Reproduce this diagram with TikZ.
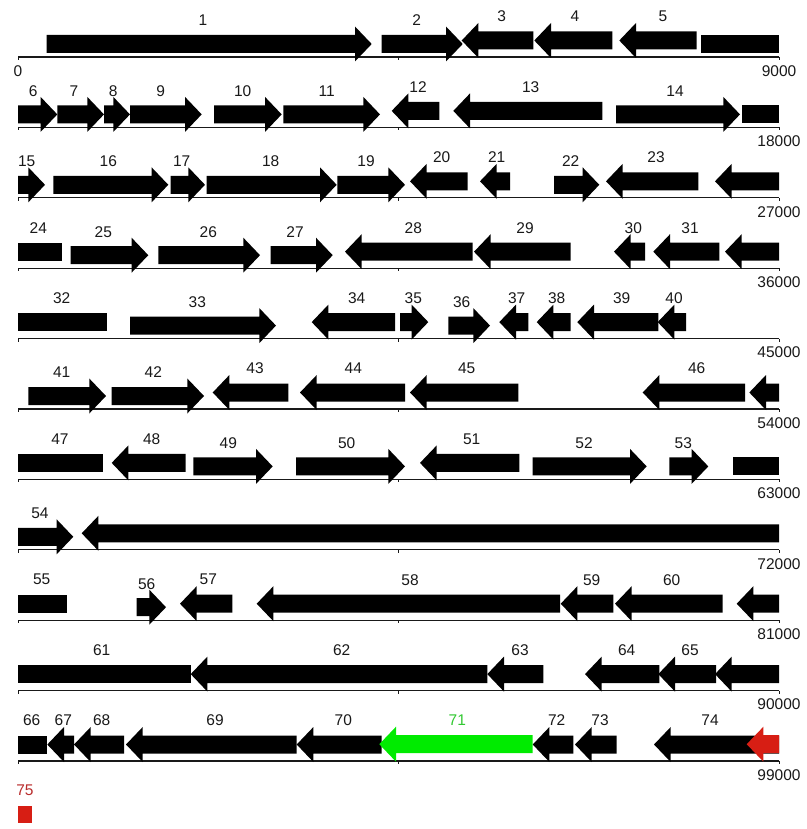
\documentclass[tikz,border=0pt]{standalone}
\usepackage{fontspec}
\setmainfont{Liberation Sans}
\definecolor{ink}{RGB}{25,25,25}
\definecolor{genegreen}{RGB}{0,235,0}
\definecolor{labelgreen}{RGB}{50,200,50}
\definecolor{genered}{RGB}{215,30,20}
\definecolor{labelred}{RGB}{185,45,45}
\tikzset{
  axisline/.style={draw=ink, line width=1.2pt},
  tickline/.style={draw=ink, line width=0.9pt},
  genelabel/.style={inner sep=0pt, font=\fontsize{15.5}{18}\selectfont, text=ink},
  gene/.style={fill=black},
}
\begin{document}
\begin{tikzpicture}[x=1pt,y=-1pt]
  \useasboundingbox (0,0) rectangle (806,829);

  % axes, one per 9000
  \foreach \r in {1,...,11} {
    \pgfmathsetmacro\ya{57+70.4*(\r-1)}
    \pgfmathtruncatemacro\endk{\r*9}
    \draw[axisline] (18,\ya) -- (779,\ya);
    \draw[tickline] (18,\ya) -- (18,\ya+3) (398.5,\ya) -- (398.5,\ya+3) (779,\ya) -- (779,\ya+3);
    \node[genelabel] (end\r) at (779,\ya+14) {\endk000};
  }
  \node[genelabel] (start1) at (18,71) {0};

  % forward genes: row/start/tip/level/label x/label
  \foreach \r/\s/\e/\lv/\lx/\lab in {
      1/46.7/371.7/0/203/1, 1/381.7/462.7/0/416.7/2,
      2/18/57.3/0/33.3/6, 2/57.3/104/0/74/7, 2/104/130/0/113.3/8, 2/130/201.7/0/160.7/9,
      2/214/281.7/0/242.7/10, 2/283.3/380/0/326.7/11, 2/616/740/0/675/14,
      3/18/45/0/26.7/15, 3/53.3/168.3/0/108.3/16, 3/170.7/205/0/181.7/17,
      3/206.7/336.7/0/270.7/18, 3/337.3/405/0/366/19, 3/554/599.3/0/570.7/22,
      4/70.7/148.3/0/103.3/25, 4/158.3/260/0/208.3/26, 4/270.7/332.7/0/295/27,
      5/130/276/0/197.3/33, 5/400/428.3/1/413.3/35, 5/448.3/490/0/461.7/36,
      6/28.3/106/0/61.7/41, 6/111.7/204/0/153.3/42,
      7/193.3/272.7/0/228.3/49, 7/296/405/0/346.7/50, 7/532.7/646.7/0/584/52, 7/669.3/708.3/0/683.3/53,
      8/18/73.3/0/40/54, 9/136.7/166/0/146.7/56} {
    \pgfmathsetmacro\ya{57+70.4*(\r-1)}
    \pgfmathsetmacro\yc{\ya-13-3.5*\lv}
    \pgfmathsetmacro\hb{max(\s,\e-16.7)}
    \fill[gene] (\s,\yc-9) -- (\hb,\yc-9) -- (\hb,\yc-17.5) -- (\e,\yc)
      -- (\hb,\yc+17.5) -- (\hb,\yc+9) -- (\s,\yc+9) -- cycle;
    \node[genelabel] (g\lab) at (\lx,\ya-36.5-4*\lv) {\lab};
  }

  % reverse genes: row/tip/end/level/label x/label
  \foreach \r/\s/\e/\lv/\lx/\lab in {
      1/461.7/533.3/1/501.7/3, 1/534.3/612.3/1/575/4, 1/619.3/696.7/1/663/5,
      2/391.7/439.3/1/418/12, 2/453.3/602.3/1/530.7/13,
      3/410/467.7/1/441.7/20, 3/480/510/1/496.7/21, 3/606/698.3/1/656/23,
      4/345/472.7/1/413.3/28, 4/474/570.7/1/525/29, 4/614/645/1/633.3/30, 4/653.3/719.3/1/690/31,
      5/311.7/395/1/356.7/34, 5/499.3/528.3/1/516.7/37, 5/536.7/570.7/1/556.7/38,
      5/577.3/658.3/1/621.7/39, 5/657.7/686/1/674/40,
      6/212.7/288.3/1/255/43, 6/300/405/1/353.3/44, 6/410/518.3/1/466.7/45, 6/642.7/745/1/696.7/46,
      7/111.7/185.7/1/151.7/48, 7/420/519.3/1/471.7/51,
      9/180/232.3/1/208.3/57, 9/256.7/560/1/410/58, 9/560.7/613.3/1/591.7/59, 9/615/722.7/1/671.7/60,
      10/190.7/487.3/1/341.7/62, 10/487.3/543.3/1/520/63, 10/585/659.3/1/626.7/64, 10/658.3/716/1/690/65,
      11/47.3/74/1/63.3/67, 11/74/124/1/101.7/68, 11/126/296.7/1/215/69, 11/296.7/381.7/1/343.3/70,
      11/532.7/573.3/1/556.7/72, 11/575/616.7/1/600/73, 11/654/779/1/710/74} {
    \pgfmathsetmacro\ya{57+70.4*(\r-1)}
    \pgfmathsetmacro\yc{\ya-13-3.5*\lv}
    \pgfmathsetmacro\hb{min(\e,\s+16.7)}
    \fill[gene] (\e,\yc-9) -- (\hb,\yc-9) -- (\hb,\yc-17.5) -- (\s,\yc)
      -- (\hb,\yc+17.5) -- (\hb,\yc+9) -- (\e,\yc+9) -- cycle;
    \node[genelabel] (g\lab) at (\lx,\ya-36.5-4*\lv) {\lab};
  }

  % pieces carried over from the row before (no label)
  \foreach \r/\s/\e in {3/715/779, 4/725/779, 6/749.3/779, 8/81.7/779, 9/736.7/779, 10/715/779} {
    \pgfmathsetmacro\ya{57+70.4*(\r-1)}
    \pgfmathsetmacro\yc{\ya-16.5}
    \pgfmathsetmacro\hb{\s+16.7}
    \fill[gene] (\e,\yc-9) -- (\hb,\yc-9) -- (\hb,\yc-17.5) -- (\s,\yc)
      -- (\hb,\yc+17.5) -- (\hb,\yc+9) -- (\e,\yc+9) -- cycle;
  }
  \foreach \r/\s/\e/\lv in {1/700.7/779/0, 2/741.7/779/0, 7/733.3/779/0} {
    \pgfmathsetmacro\ya{57+70.4*(\r-1)}
    \pgfmathsetmacro\yc{\ya-13-3.5*\lv}
    \fill[gene] (\s,\yc-9) rectangle (\e,\yc+9);
  }

  % boxes with a label
  \foreach \r/\s/\e/\lx/\lab in {4/18/61.7/38.3/24, 5/18/106.7/61.7/32, 7/18/103.3/60/47,
      9/18/67.3/41.7/55, 10/18/190.7/101.7/61, 11/18/47.3/31.7/66} {
    \pgfmathsetmacro\ya{57+70.4*(\r-1)}
    \pgfmathsetmacro\yc{\ya-16.5}
    \fill[gene] (\s,\yc-9) rectangle (\e,\yc+9);
    \node[genelabel] (g\lab) at (\lx,\ya-40.5) {\lab};
  }

  % highlighted genes
  \fill[genegreen] (532.7,735.2) -- (396,735.2) -- (396,726.7) -- (379.3,744.2)
    -- (396,761.7) -- (396,753.2) -- (532.7,753.2) -- cycle;
  \node[genelabel, text=labelgreen] (g71) at (457.3,720.2) {71};
  \fill[genered] (779,735.2) -- (763.4,735.2) -- (763.4,726.7) -- (746.7,744.2)
    -- (763.4,761.7) -- (763.4,753.2) -- (779,753.2) -- cycle;
  \fill[genered] (18.3,806) rectangle (32.3,822.7);
  \node[genelabel, text=labelred] (g75) at (25,790) {75};
\end{tikzpicture}
\end{document}
